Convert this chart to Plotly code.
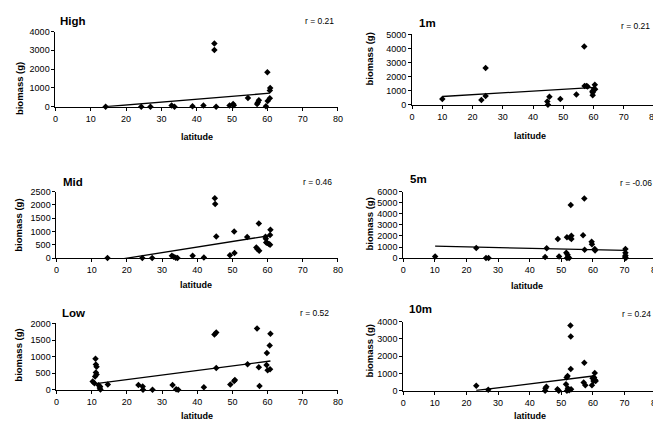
import plotly.graph_objects as go

W, H = 661, 423

# ---------------- data ----------------
high_lat = [14.2, 24.3, 26.9, 32.9, 33.7, 38.8, 41.9, 45.0, 45.0, 45.5, 49.3, 50.3, 50.5, 54.5,
            57.1, 57.3, 57.6, 60.0, 59.6, 60.1, 60.7, 60.8, 60.7]
high_bio = [0, 0, 0, 70, 0, 20, 70, 3360, 3020, 0, 70, 150, 80, 470,
            140, 220, 340, 1830, 30, 310, 450, 1000, 860]
high_trend_lat = [14.2, 60.7]
high_trend_bio = [0, 720]

m1_lat = [10.0, 22.9, 24.3, 24.3, 44.7, 44.9, 45.4, 49.0, 54.3, 56.9, 57.0, 57.6, 58.0,
          59.6, 59.7, 59.7, 60.1, 60.4, 60.5]
m1_bio = [410, 345, 2615, 620, 230, 0, 570, 410, 730, 4150, 1330, 1330, 1300,
          960, 670, 870, 1120, 1420, 1100]
m1_trend_lat = [10.0, 60.5]
m1_trend_bio = [590, 1240]

mid_lat = [14.5, 24.4, 27.2, 32.8, 33.3, 33.9, 34.4, 38.7, 41.9, 45.0, 45.1, 45.4, 49.3, 50.5,
           50.6, 54.2, 56.8, 57.1, 57.5, 57.6, 59.4, 59.5, 59.6, 59.9, 60.4, 60.7, 60.7, 60.8]
mid_bio = [0, 0, 0, 85, 50, 10, 0, 85, 25, 2255, 2035, 815, 110, 1000,
           195, 790, 400, 340, 1305, 280, 800, 730, 585, 570, 525, 500, 870, 1065]
mid_trend_lat = [14.5, 60.8]
mid_trend_bio = [-120, 850]

m5_lat = [10.1, 23.1, 26.2, 27.0, 44.9, 45.4, 48.9, 49.3, 51.6, 51.8, 52.0, 52.2, 52.5, 52.8,
          53.0, 53.2, 53.2, 51.8, 56.9, 57.3, 57.4, 59.6, 59.7, 60.6, 60.7, 70.3, 70.3, 70.3,
          70.4, 70.2]
m5_bio = [150, 920, 0, 0, 90, 890, 1715, 150, 470, 1890, 300, 90, 0, 1830,
          4790, 2010, 1715, 0, 2070, 5380, 740, 1480, 1240, 830, 680, 830, 470, 240,
          0, 90]
m5_trend_lat = [10.1, 70.3]
m5_trend_bio = [1070, 700]

low_lat = [10.3, 10.8, 11.1, 11.2, 11.4, 11.2, 11.4, 11.0, 12.0, 12.3, 12.5, 12.4, 14.6,
           23.3, 24.5, 24.6, 27.3, 33.0, 34.0, 34.6, 41.9, 44.9, 45.4, 45.4, 49.4, 50.5,
           50.7, 54.3, 57.0, 57.5, 57.7, 59.8, 59.7, 60.0, 60.6, 60.8, 60.7]
low_bio = [250, 200, 935, 766, 700, 520, 460, 400, 140, 60, 10, 100, 160,
           150, 100, 0, 0, 150, 20, 0, 80, 1670, 1730, 660, 160, 270,
           300, 770, 1850, 680, 120, 1110, 750, 590, 1340, 1690, 620]
low_trend_lat = [11.2, 60.8]
low_trend_bio = [190, 870]

m10_lat = [23.1, 26.9, 44.9, 45.0, 45.3, 48.8, 49.2, 51.5, 51.7, 51.8, 52.0, 52.1, 52.5,
           52.9, 53.0, 53.0, 53.1, 57.3, 57.1, 57.6, 59.7, 59.9, 60.4, 60.6, 60.7, 60.9, 60.2]
m10_bio = [290, 60, 0, 150, 230, 95, 0, 380, 765, 0, 860, 150, 40,
           3770, 3140, 1260, 95, 1625, 480, 325, 325, 725, 765, 1030, 630, 570, 570]
m10_trend_lat = [23.1, 60.7]
m10_trend_bio = [20, 870]

x_ticks = [0, 10, 20, 30, 40, 50, 60, 70, 80]

panels = [
    dict(name="High", r="r = 0.21", lat=high_lat, bio=high_bio, tl=high_trend_lat, tb=high_trend_bio,
         ymax=4000, dt=1000, box=(45, 331, 19, 96)),
    dict(name="1m", r="r = 0.21", lat=m1_lat, bio=m1_bio, tl=m1_trend_lat, tb=m1_trend_bio,
         ymax=5000, dt=1000, box=(406, 651, 22, 94)),
    dict(name="Mid", r="r = 0.46", lat=mid_lat, bio=mid_bio, tl=mid_trend_lat, tb=mid_trend_bio,
         ymax=2500, dt=500, box=(46, 331, 183, 251)),
    dict(name="5m", r="r = -0.06", lat=m5_lat, bio=m5_bio, tl=m5_trend_lat, tb=m5_trend_bio,
         ymax=6000, dt=1000, box=(397, 653, 183, 251)),
    dict(name="Low", r="r = 0.52", lat=low_lat, bio=low_bio, tl=low_trend_lat, tb=low_trend_bio,
         ymax=2000, dt=500, box=(46, 331, 318, 386)),
    dict(name="10m", r="r = 0.24", lat=m10_lat, bio=m10_bio, tl=m10_trend_lat, tb=m10_trend_bio,
         ymax=4000, dt=1000, box=(397, 653, 316, 387)),
]

text_pos = [
    dict(title=(48, 8), r=(329, 8), yl=(8, 77), xl=(188, 127)),
    dict(title=(411, 10), r=(649, 13), yl=(363, 47), xl=(525, 126)),
    dict(title=(51, 173), r=(327, 173), yl=(8, 217), xl=(187, 279)),
    dict(title=(402, 170), r=(651, 174), yl=(363, 216), xl=(522, 280)),
    dict(title=(50, 307), r=(324, 307), yl=(8, 350), xl=(188, 413)),
    dict(title=(401, 303), r=(650, 308), yl=(363, 346), xl=(525, 413)),
]

FONT = "Liberation Sans, Arial, sans-serif"

fig = go.Figure()
layout = dict(width=W, height=H, margin=dict(l=0, r=0, t=0, b=0),
              paper_bgcolor="white", plot_bgcolor="white", showlegend=False,
              font=dict(family=FONT, color="black"))
annotations = []

def px_x(v):
    return v / W

def px_y(v):
    return 1 - v / H

for i, p in enumerate(panels):
    k = "" if i == 0 else str(i + 1)
    x0, x1, y0, y1 = p["box"]
    layout["xaxis" + k] = dict(domain=[px_x(x0), px_x(x1)], range=[0, 80], tickvals=x_ticks,
                               showline=True, linecolor="black", linewidth=1, ticks="outside",
                               ticklen=3, tickcolor="black", showgrid=False, zeroline=False,
                               tickfont=dict(size=9, family=FONT, color="black"),
                               anchor="y" + k, fixedrange=True)
    layout["yaxis" + k] = dict(domain=[px_y(y1), px_y(y0)], range=[0, p["ymax"]], dtick=p["dt"],
                               showline=True, linecolor="black", linewidth=1, ticks="outside",
                               ticklen=3, tickcolor="black", showgrid=False, zeroline=False,
                               tickfont=dict(size=9, family=FONT, color="black"),
                               anchor="x" + k, fixedrange=True)
    fig.add_trace(go.Scatter(x=p["lat"], y=p["bio"], mode="markers",
                             marker=dict(symbol="diamond", size=5, color="black"),
                             xaxis="x" + k, yaxis="y" + k, cliponaxis=False))
    fig.add_trace(go.Scatter(x=p["tl"], y=p["tb"], mode="lines",
                             line=dict(color="black", width=1.3),
                             xaxis="x" + k, yaxis="y" + k))
    t = text_pos[i]
    annotations.append(dict(text="<b>%s</b>" % p["name"], x=px_x(t["title"][0]), y=px_y(t["title"][1]),
                            xref="paper", yref="paper", xanchor="left", yanchor="middle",
                            showarrow=False, font=dict(size=11.5, family=FONT)))
    annotations.append(dict(text=p["r"], x=px_x(t["r"][0]), y=px_y(t["r"][1]),
                            xref="paper", yref="paper", xanchor="right", yanchor="middle",
                            showarrow=False, font=dict(size=8.5, family=FONT)))
    annotations.append(dict(text="<b>biomass (g)</b>", x=px_x(t["yl"][0]), y=px_y(t["yl"][1]),
                            xref="paper", yref="paper", xanchor="center", yanchor="middle",
                            textangle=-90, showarrow=False, font=dict(size=9.5, family=FONT)))
    annotations.append(dict(text="<b>latitude</b>", x=px_x(t["xl"][0]), y=px_y(t["xl"][1]),
                            xref="paper", yref="paper", xanchor="center", yanchor="middle",
                            showarrow=False, font=dict(size=9, family=FONT)))

layout["annotations"] = annotations
fig.update_layout(**layout)
fig.write_html("out.html")
